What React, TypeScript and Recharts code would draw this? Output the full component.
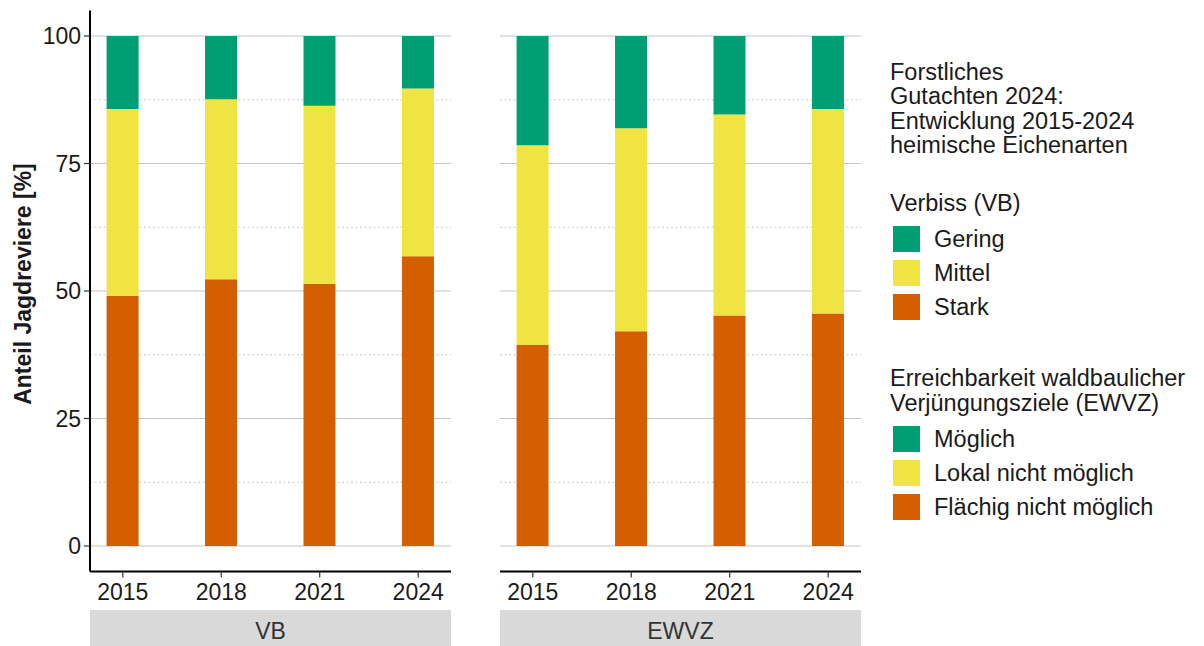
import React from "react";
import { BarChart, Bar, XAxis, YAxis, CartesianGrid } from "recharts";

const years = [2015, 2018, 2021, 2024];
const vbStark = [49.0, 52.3, 51.4, 56.8];
const vbMittel = [36.7, 35.3, 34.9, 32.9];
const vbGering = [14.3, 12.4, 13.7, 10.3];
const ewvzFlaechig = [39.4, 42.1, 45.2, 45.6];
const ewvzLokal = [39.2, 39.8, 39.4, 40.1];
const ewvzMoeglich = [21.4, 18.1, 15.4, 14.3];

const yTicks = [0, 25, 50, 75, 100];
const yMinor = [12.5, 37.5, 62.5, 87.5];

const titleLines = ["Forstliches", "Gutachten 2024:", "Entwicklung 2015-2024", "heimische Eichenarten"];
const vbTitle = "Verbiss (VB)";
const vbLabels = ["Gering", "Mittel", "Stark"];
const ewvzTitle = ["Erreichbarkeit waldbaulicher", "Verjüngungsziele (EWVZ)"];
const ewvzLabels = ["Möglich", "Lokal nicht möglich", "Flächig nicht möglich"];
const panelNames = ["VB", "EWVZ"];
const yTitle = "Anteil Jagdreviere [%]";

const GREEN = "#009E73";
const YELLOW = "#F0E442";
const ORANGE = "#D55E00";
const legendColors = [GREEN, YELLOW, ORANGE];

const FONT = "'Liberation Sans', Arial, sans-serif";
const TEXT = "#1a1a1a";

const vbData = years.map((y, i) => ({ year: y, stark: vbStark[i], mittel: vbMittel[i], gering: vbGering[i] }));
const ewvzData = years.map((y, i) => ({ year: y, stark: ewvzFlaechig[i], mittel: ewvzLokal[i], gering: ewvzMoeglich[i] }));

const CH = 646;
const margin = { top: 10.5, right: 9, left: 0, bottom: 34.5 };

function Panel({ data, showY, width }: { data: any[]; showY: boolean; width: number }) {
  return (
    <BarChart width={width} height={CH} data={data} margin={margin} barSize={32}>
      <CartesianGrid horizontalValues={yTicks} vertical={false} stroke="#c4c4c4" strokeWidth={1} />
      <CartesianGrid horizontalValues={yMinor} vertical={false} stroke="#c8c8c8" strokeWidth={1} strokeDasharray="2 2.5" />
      <XAxis
        dataKey="year"
        type="number"
        domain={[2014, 2025]}
        ticks={years}
        height={40}
        axisLine={{ stroke: "#000", strokeWidth: 2 }}
        tickLine={{ stroke: "#333", strokeWidth: 1.2 }}
        tickSize={6}
        tickMargin={6}
        tick={{ fontSize: 23, fill: TEXT, fontFamily: FONT }}
        allowDataOverflow
      />
      <YAxis
        type="number"
        domain={[-5, 105]}
        ticks={yTicks}
        width={showY ? 90 : 0}
        hide={!showY}
        axisLine={{ stroke: "#000", strokeWidth: 2 }}
        tickLine={{ stroke: "#333", strokeWidth: 1.2 }}
        tickSize={6}
        tickMargin={3}
        tick={{ fontSize: 23, fill: TEXT, fontFamily: FONT }}
        allowDataOverflow
      />
      <Bar dataKey="stark" stackId="a" fill={ORANGE} isAnimationActive={false} />
      <Bar dataKey="mittel" stackId="a" fill={YELLOW} isAnimationActive={false} />
      <Bar dataKey="gering" stackId="a" fill={GREEN} isAnimationActive={false} />
    </BarChart>
  );
}

export default function App() {
  const keyX = 893;
  const textX = 934;
  const vbKeyTops = [226, 260, 294];
  const ewKeyTops = [426, 460, 494];
  return (
    <div style={{ position: "absolute", left: 0, top: 0, width: 1204, height: 646, background: "#fff", fontFamily: FONT }}>
      <div style={{ position: "absolute", left: 0, top: 0 }}>
        <Panel data={vbData} showY={true} width={460} />
      </div>
      <div style={{ position: "absolute", left: 500, top: 0 }}>
        <Panel data={ewvzData} showY={false} width={370} />
      </div>
      <svg width={1204} height={646} style={{ position: "absolute", left: 0, top: 0, pointerEvents: "none" }} fontFamily={FONT}>
        <text
          transform="translate(23,284) rotate(-90)"
          textAnchor="middle"
          dominantBaseline="central"
          fontSize={23}
          fontWeight="bold"
          fill={TEXT}
        >
          {yTitle}
        </text>
        {panelNames.map((p, i) => {
          const x0 = i === 0 ? 90 : 500;
          return (
            <g key={p}>
              <rect x={x0} y={610} width={361} height={36} fill="#d9d9d9" />
              <text x={x0 + 180.5} y={631} textAnchor="middle" dominantBaseline="central" fontSize={23} fill="#333">
                {p}
              </text>
            </g>
          );
        })}
        {titleLines.map((t, i) => (
          <text key={t} x={890} y={80 + i * 24.3} fontSize={23.5} fill={TEXT}>
            {t}
          </text>
        ))}
        <text x={890} y={211} fontSize={23.5} fill={TEXT}>
          {vbTitle}
        </text>
        {vbLabels.map((l, i) => (
          <g key={l}>
            <rect x={keyX} y={vbKeyTops[i]} width={27} height={26} fill={legendColors[i]} />
            <text x={textX} y={vbKeyTops[i] + 13} dominantBaseline="central" fontSize={23.5} fill={TEXT}>
              {l}
            </text>
          </g>
        ))}
        {ewvzTitle.map((t, i) => (
          <text key={t} x={890} y={386 + i * 25} fontSize={23.5} fill={TEXT}>
            {t}
          </text>
        ))}
        {ewvzLabels.map((l, i) => (
          <g key={l}>
            <rect x={keyX} y={ewKeyTops[i]} width={27} height={26} fill={legendColors[i]} />
            <text x={textX} y={ewKeyTops[i] + 13} dominantBaseline="central" fontSize={23.5} fill={TEXT}>
              {l}
            </text>
          </g>
        ))}
      </svg>
    </div>
  );
}
